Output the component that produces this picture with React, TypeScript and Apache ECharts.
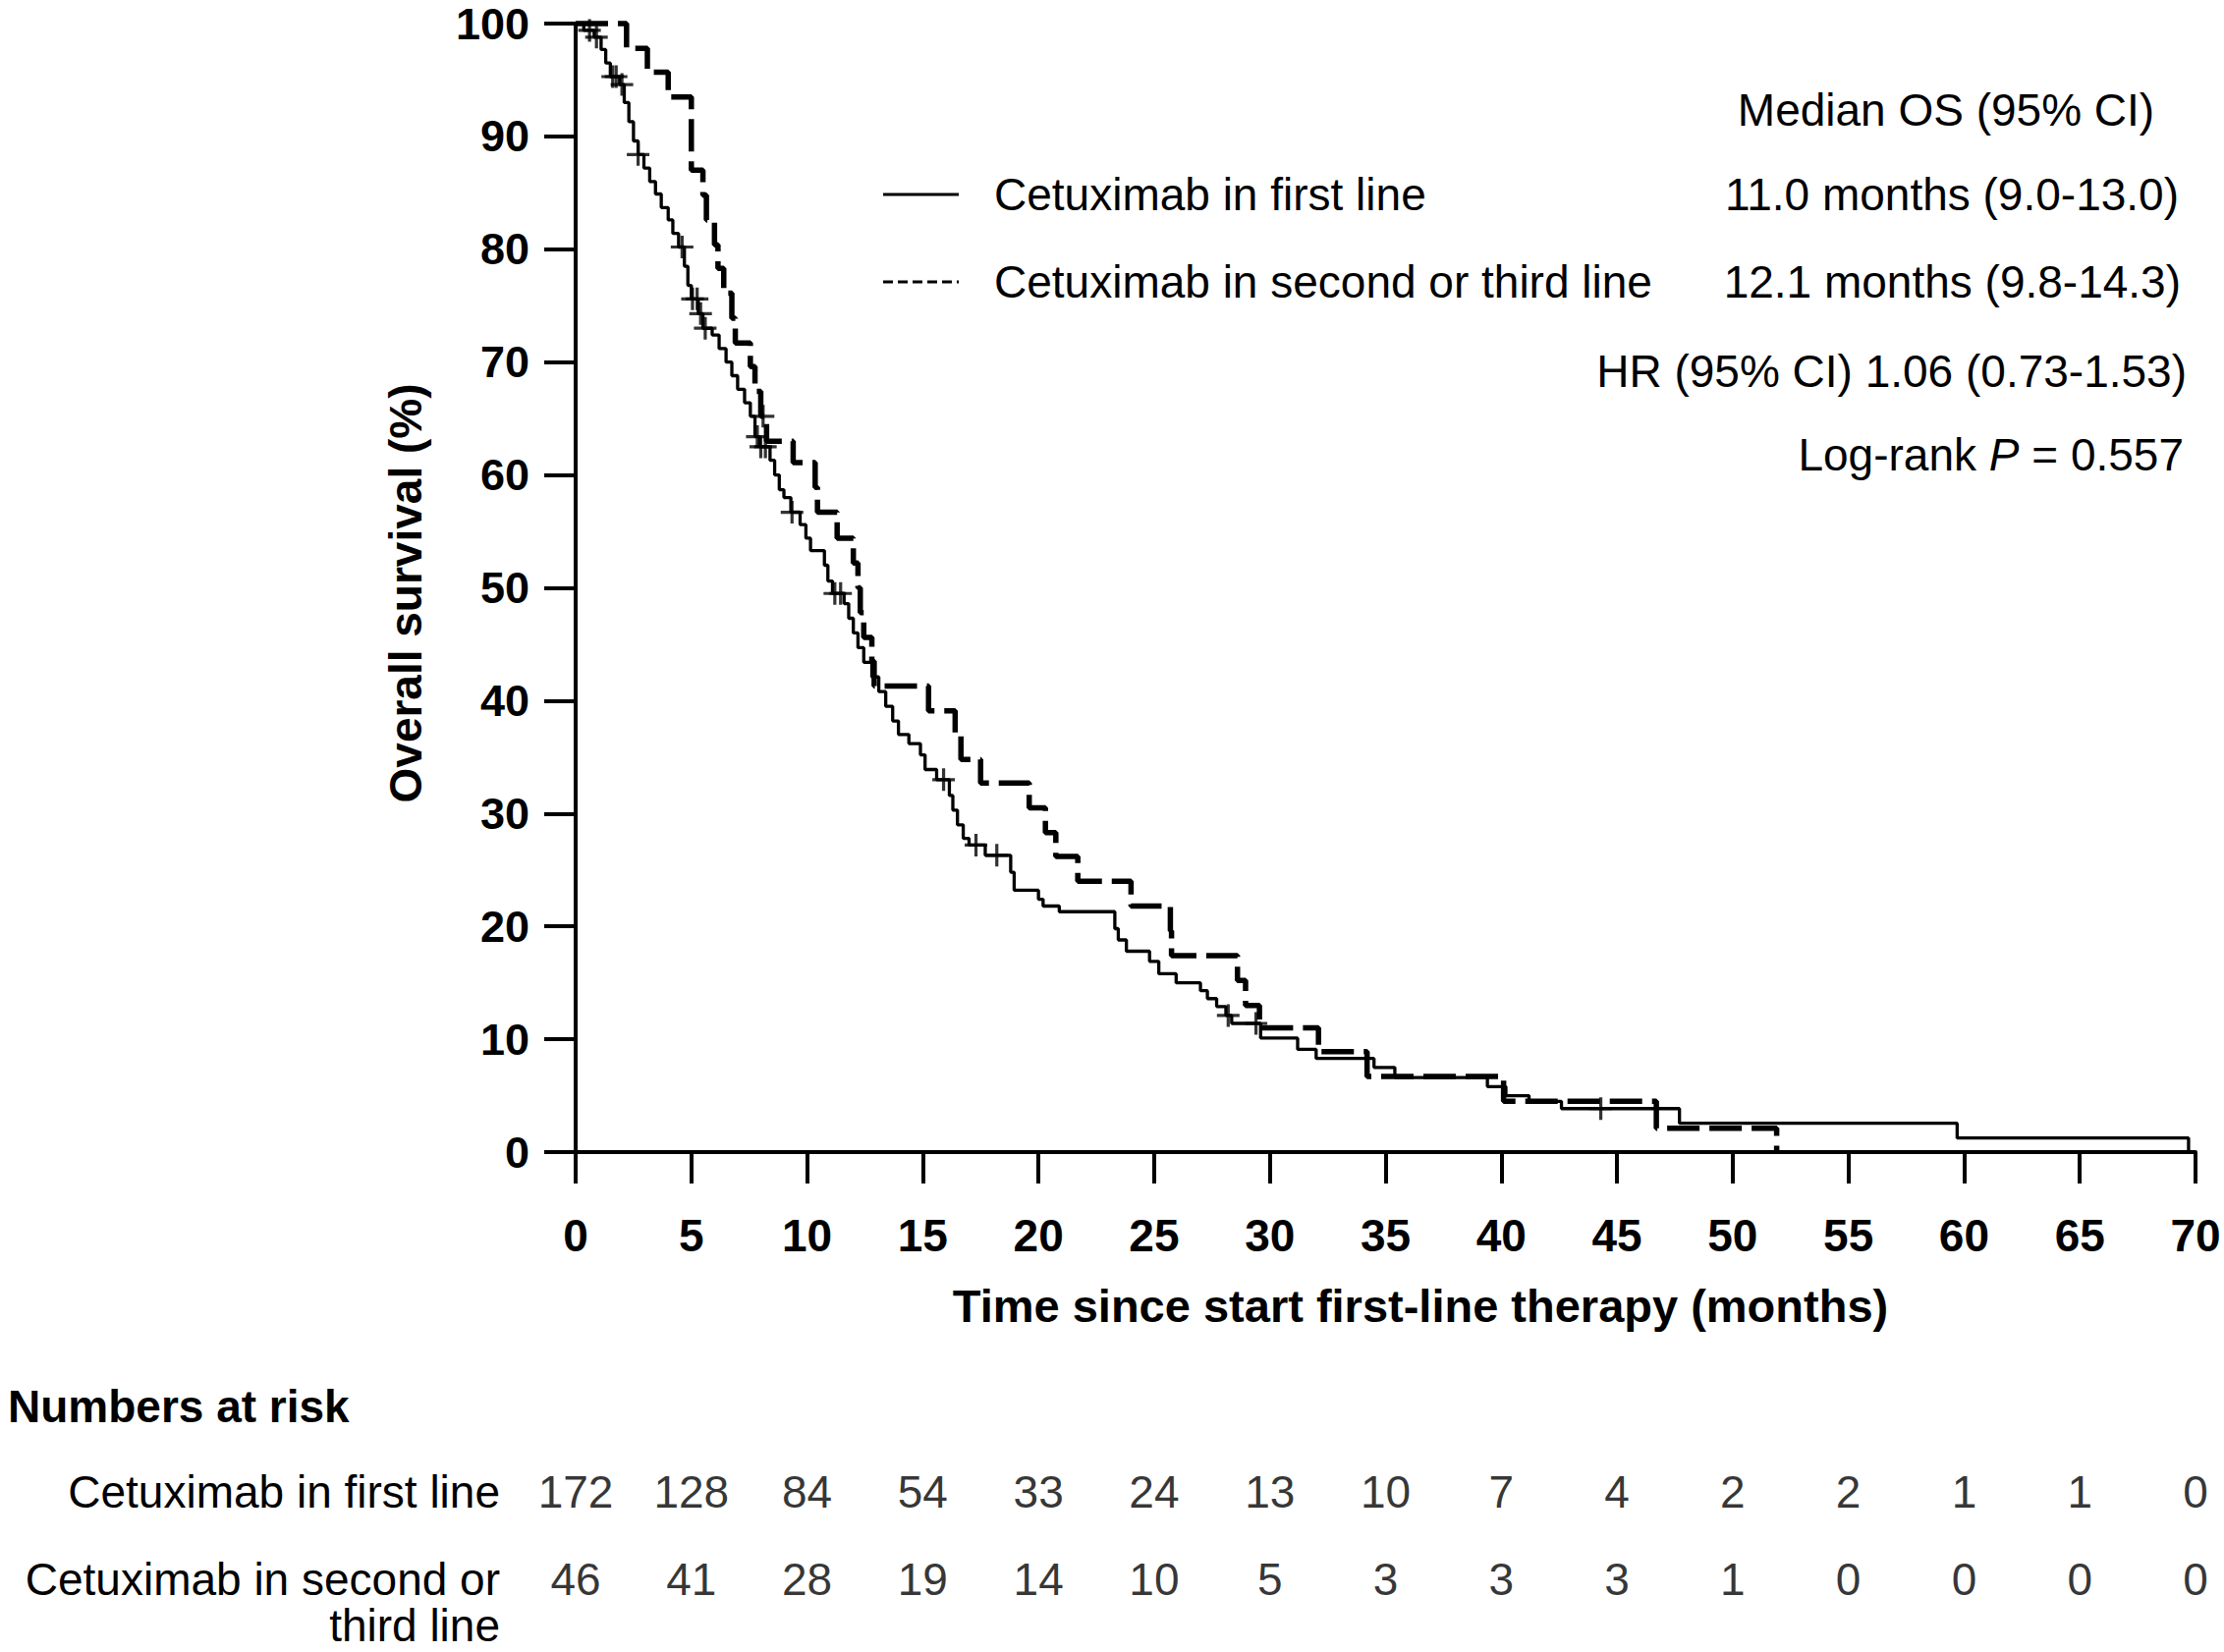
import React, { useEffect, useRef } from "react";
import * as echarts from "echarts";

const riskMonths = [0, 5, 10, 15, 20, 25, 30, 35, 40, 45, 50, 55, 60, 65, 70];
const firstLineAtRisk = [172, 128, 84, 54, 33, 24, 13, 10, 7, 4, 2, 2, 1, 1, 0];
const laterLineAtRisk = [46, 41, 28, 19, 14, 10, 5, 3, 3, 3, 1, 0, 0, 0, 0];

const seriesNames = ["Cetuximab in first line", "Cetuximab in second or third line"];
const medianTexts = ["11.0 months (9.0-13.0)", "12.1 months (9.8-14.3)"];

const firstLineCurve: [number, number][] = [
  [0, 100], [0.35, 99.4], [0.8, 98.8], [1.1, 97.7], [1.3, 96.5], [1.5, 95.3], [1.9, 94.6],
  [2.1, 93.0], [2.3, 91.3], [2.5, 89.6], [2.7, 88.4], [2.95, 87.2], [3.2, 86.0], [3.45, 84.9],
  [3.7, 83.7], [4.0, 82.6], [4.2, 81.4], [4.45, 80.2], [4.7, 78.5], [4.85, 76.8], [5.0, 75.6],
  [5.3, 74.3], [5.5, 73.0], [5.9, 72.4], [6.2, 71.2], [6.5, 70.0], [6.75, 68.8], [7.0, 67.6],
  [7.3, 66.4], [7.55, 65.2], [7.75, 63.4], [7.95, 62.5], [8.4, 61.3], [8.6, 60.0], [8.8, 58.7],
  [9.0, 58.0], [9.3, 56.7], [9.7, 55.6], [9.95, 54.4], [10.15, 53.3], [10.75, 52.0], [10.9, 50.6],
  [11.1, 49.5], [11.6, 48.6], [11.8, 47.3], [12.0, 46.0], [12.2, 44.7], [12.45, 43.4], [12.8, 42.1],
  [13.1, 40.8], [13.4, 39.5], [13.7, 38.2], [13.95, 37.0], [14.4, 36.2], [14.9, 35.2], [15.1, 33.9],
  [15.6, 33.0], [16.15, 31.6], [16.3, 30.3], [16.5, 29.0], [16.75, 27.8], [17.0, 27.2], [17.7, 26.3],
  [18.8, 24.8], [18.95, 23.2], [20.0, 22.4], [20.2, 21.8], [20.9, 21.3], [23.3, 19.8], [23.45, 18.8],
  [23.8, 17.8], [24.8, 16.9], [25.2, 15.8], [25.95, 15.0], [27.0, 14.3], [27.3, 13.6], [27.7, 12.9],
  [28.1, 12.1], [28.35, 11.4], [29.6, 10.1], [31.2, 9.1], [32.0, 8.3], [34.5, 7.5], [35.4, 6.6],
  [39.4, 5.8], [40.2, 5.0], [41.2, 4.5], [42.6, 3.85], [47.7, 2.55], [59.7, 1.25], [69.7, 0],
];

const laterLineCurve: [number, number][] = [
  [0, 100], [2.2, 97.8], [3.1, 95.7], [4.0, 93.5], [5.0, 87.0], [5.5, 84.8], [5.65, 82.6],
  [6.0, 80.4], [6.15, 78.3], [6.4, 76.1], [6.75, 73.9], [6.9, 71.7], [7.55, 69.6], [7.75, 67.4],
  [8.0, 65.2], [8.25, 63.0], [9.4, 61.1], [10.35, 58.9], [10.45, 56.7], [11.3, 54.4], [12.0, 52.2],
  [12.2, 50.0], [12.3, 47.8], [12.45, 45.6], [12.8, 43.5], [12.9, 41.3], [15.25, 39.1], [16.4, 37.0],
  [16.65, 34.8], [17.5, 32.7], [19.6, 30.5], [20.3, 28.3], [20.75, 26.2], [21.7, 24.0], [24.0, 21.8],
  [25.7, 19.6], [25.75, 17.4], [28.6, 15.2], [28.95, 13.0], [29.55, 11.0], [32.1, 8.9], [34.2, 6.7],
  [40.1, 4.5], [46.7, 2.1], [51.9, 0],
];

const firstLineCensored = [0.6, 0.9, 1.6, 1.75, 2.0, 2.7, 4.6, 5.05, 5.25, 5.4, 5.6, 7.85, 8.0, 8.2,
  9.35, 11.2, 11.45, 15.9, 17.3, 18.2, 28.2, 29.4, 44.3];
const laterLineCensored = [8.1];

const FONT = "'Liberation Sans', Arial, Helvetica, sans-serif";
const PLUS = "path://M8.6,0H11.4V8.6H20V11.4H11.4V20H8.6V11.4H0V8.6H8.6Z";

function survivalAt(curve: [number, number][], t: number): number {
  let v = curve[0][1];
  for (const [x, y] of curve) {
    if (x <= t) v = y;
    else break;
  }
  return v;
}

function buildOption() {
  const riskData1 = riskMonths.map((m, i) => [m, 0, firstLineAtRisk[i]]);
  const riskData2 = riskMonths.map((m, i) => [m, 1, laterLineAtRisk[i]]);
  const txt = (text: string, x: number, y: number, align: string, weight = "normal", extra: any = {}) => ({
    type: "text",
    x,
    y,
    ...extra,
    style: {
      text,
      fill: "#000",
      font: `${weight} 46px ${FONT}`,
      align,
      verticalAlign: "middle",
      ...(extra.style || {}),
    },
  });
  return {
    animation: false,
    backgroundColor: "#fff",
    grid: [
      { left: 586, top: 24, width: 1649, height: 1149 },
      { left: 586, top: 1519, width: 1649, height: 89 },
    ],
    xAxis: [
      {
        type: "value",
        gridIndex: 0,
        min: 0,
        max: 70,
        interval: 5,
        axisLine: { show: true, lineStyle: { color: "#000", width: 4 } },
        axisTick: { show: true, length: 32, lineStyle: { color: "#000", width: 4 } },
        axisLabel: { margin: 62, color: "#000", fontSize: 46, fontWeight: "bold", fontFamily: FONT },
        splitLine: { show: false },
      },
      { type: "value", gridIndex: 1, min: 0, max: 70, show: false },
    ],
    yAxis: [
      {
        type: "value",
        gridIndex: 0,
        min: 0,
        max: 100,
        interval: 10,
        axisLine: { show: true, lineStyle: { color: "#000", width: 4 } },
        axisTick: { show: true, length: 32, lineStyle: { color: "#000", width: 4 } },
        axisLabel: { margin: 47, color: "#000", fontSize: 45, fontWeight: "bold", fontFamily: FONT },
        splitLine: { show: false },
      },
      { type: "value", gridIndex: 1, min: 0, max: 1, inverse: true, show: false },
    ],
    series: [
      {
        name: seriesNames[0],
        type: "line",
        step: "end",
        data: firstLineCurve,
        showSymbol: false,
        clip: false,
        lineStyle: { color: "#000", width: 3.3 },
      },
      {
        name: seriesNames[1],
        type: "line",
        step: "end",
        data: laterLineCurve,
        showSymbol: false,
        clip: false,
        lineStyle: { color: "#000", width: 5.5, type: [33, 10] },
      },
      {
        type: "scatter",
        data: firstLineCensored.map((t) => [t, survivalAt(firstLineCurve, t)]),
        symbol: PLUS,
        symbolSize: 23,
        itemStyle: { color: "#000" },
      },
      {
        type: "scatter",
        data: laterLineCensored.map((t) => [t, survivalAt(laterLineCurve, t)]),
        symbol: PLUS,
        symbolSize: 23,
        itemStyle: { color: "#000" },
      },
      {
        type: "scatter",
        xAxisIndex: 1,
        yAxisIndex: 1,
        data: [...riskData1, ...riskData2],
        symbolSize: 1,
        itemStyle: { color: "transparent" },
        label: {
          show: true,
          position: "inside",
          formatter: (p: any) => String(p.value[2]),
          color: "#000",
          fontSize: 46,
          fontFamily: FONT,
        },
      },
    ],
    graphic: [
      txt("Overall survival (%)", 413, 604, "center", "bold", { rotation: Math.PI / 2 }),
      txt("Time since start first-line therapy (months)", 1446, 1329, "center", "bold", {
        style: { font: `bold 47px ${FONT}` },
      }),
      txt("Median OS (95% CI)", 1981, 112, "center"),
      {
        type: "line",
        shape: { x1: 899, y1: 198, x2: 976, y2: 198 },
        style: { stroke: "#000", lineWidth: 3 },
      },
      {
        type: "line",
        shape: { x1: 899, y1: 287, x2: 976, y2: 287 },
        style: { stroke: "#000", lineWidth: 3, lineDash: [10, 5] },
      },
      txt(seriesNames[0], 1012, 198, "left"),
      txt(seriesNames[1], 1012, 287, "left"),
      txt(medianTexts[0], 2218, 198, "right"),
      txt(medianTexts[1], 2220, 287, "right"),
      txt("HR (95% CI) 1.06 (0.73-1.53)", 2226, 378, "right"),
      txt("Log-rank {i|P} = 0.557", 2223, 463, "right", "normal", {
        style: { rich: { i: { fontStyle: "italic", fontSize: 46, fontFamily: FONT, fill: "#000" } } },
      }),
      txt("Numbers at risk", 8, 1432, "left", "bold"),
      txt("Cetuximab in first line", 509, 1519, "right"),
      txt("Cetuximab in second or", 509, 1608, "right"),
      txt("third line", 509, 1655, "right"),
    ],
  };
}

export default function App() {
  const ref = useRef<HTMLDivElement>(null);
  useEffect(() => {
    if (!ref.current) return;
    const chart = echarts.init(ref.current, undefined, { renderer: "svg" });
    chart.setOption(buildOption() as any);
    return () => chart.dispose();
  }, []);
  return (
    <div
      ref={ref}
      style={{ position: "absolute", left: 0, top: 0, width: 2264, height: 1682, background: "#fff" }}
    />
  );
}
